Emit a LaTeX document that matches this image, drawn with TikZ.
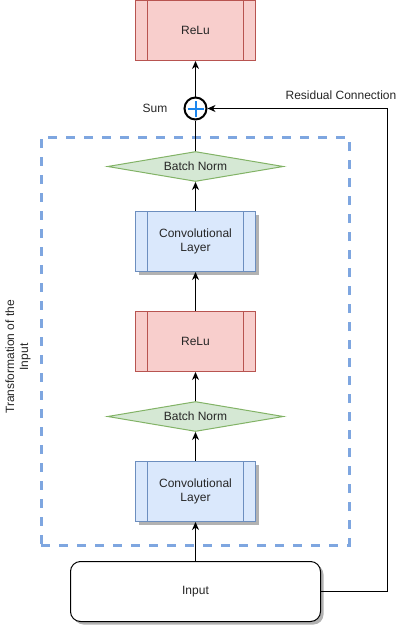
\documentclass[tikz,border=0pt]{standalone}
\usepackage{fontspec}
\setmainfont{Liberation Sans}
\usepackage{tikz}
\usetikzlibrary{positioning}
\usetikzlibrary{calc,arrows.meta,shadows}
\usetikzlibrary{shapes.geometric}

\definecolor{reluFill}{HTML}{F8CECC}
\definecolor{reluLine}{HTML}{B85450}
\definecolor{convFill}{HTML}{DAE8FC}
\definecolor{convLine}{HTML}{6C8EBF}
\definecolor{normFill}{HTML}{D5E8D4}
\definecolor{normLine}{HTML}{82B366}
\definecolor{blockLine}{HTML}{7EA6E0}
\definecolor{plusBlue}{HTML}{1C86EE}

\tikzset{
	every node/.style={font=\fontsize{12pt}{14pt}\selectfont, text=black!85},
	flow/.style={line width=1pt, -{Stealth[length=8pt,width=7pt,inset=2.5pt]}},
	boxshadow/.style={drop shadow={shadow xshift=3pt, shadow yshift=-3pt, fill=black!30, opacity=1}},
	relubox/.style={rectangle, draw=reluLine, fill=reluFill, line width=1pt,
		minimum width=120pt, minimum height=60pt, align=center,
		path picture={
			\draw[reluLine, line width=1pt]
				([xshift=12pt]path picture bounding box.north west) -- ([xshift=12pt]path picture bounding box.south west)
				([xshift=-12pt]path picture bounding box.north east) -- ([xshift=-12pt]path picture bounding box.south east);
		}},
	convbox/.style={rectangle, draw=convLine, fill=convFill, line width=1pt,
		minimum width=120pt, minimum height=60pt, align=center, boxshadow,
		path picture={
			\draw[convLine, line width=1pt]
				([xshift=12pt]path picture bounding box.north west) -- ([xshift=12pt]path picture bounding box.south west)
				([xshift=-12pt]path picture bounding box.north east) -- ([xshift=-12pt]path picture bounding box.south east);
		}},
	normbox/.style={diamond, draw=normLine, fill=normFill, line width=1pt,
		minimum width=176pt, minimum height=30pt, inner sep=0pt, aspect=5.8},
	sumnode/.style={circle, draw=black, line width=2pt, minimum size=22pt, inner sep=0pt,
		path picture={
			\draw[plusBlue, line width=2pt]
				($(path picture bounding box.center)+(-8pt,0)$) -- ($(path picture bounding box.center)+(8pt,0)$)
				($(path picture bounding box.center)+(0,-8pt)$) -- ($(path picture bounding box.center)+(0,8pt)$);
		}},
}

\begin{document}
\begin{tikzpicture}[x=1pt, y=-1pt]
	
	% page frame, in pixels of the reference
	\useasboundingbox (0,0) rectangle (414,626);
	
	% dashed block round the transformation
	\node (Block) [rectangle, draw=blockLine, line width=3pt, dash pattern=on 9pt off 9pt,
		minimum width=308pt, minimum height=408pt] at (195,341) {};
	\node (BlockLabel) [rotate=90, align=center] at (18,357) {Transformation of the\\Input};
	
	% the stack, from the bottom up
	\node (Input) [rectangle, rounded corners=10pt, draw=black, fill=white, line width=1pt,
		minimum width=250pt, minimum height=60pt, boxshadow] at (195.5,591.5) {Input};
	\node (Conv2) [convbox] at (195.5,491.5) {Convolutional\\Layer};
	\node (BN2)   [normbox] at (195.5,416.5) {Batch Norm};
	\node (ReLU2) [relubox] at (195.5,341.5) {ReLu};
	\node (Conv1) [convbox] at (195.5,241.5) {Convolutional\\Layer};
	\node (BN1)   [normbox] at (195.5,166.5) {Batch Norm};
	\node (Sum)   [sumnode] at (195.5,108.5) {};
	\node (ReLUout) [relubox] at (195.5,30.5) {ReLu};
	
	\node (SumLabel) at (155,108) {Sum};
	\node (ResLabel) at (341,95) {Residual Connection};
	
	\coordinate (Bend) at (387,591.5);
	
	% connectors
	\draw[flow] (Input) -- (Conv2);
	\draw[flow] (Conv2) -- (BN2);
	\draw[flow] (BN2) -- (ReLU2);
	\draw[flow] (ReLU2) -- (Conv1);
	\draw[flow] (Conv1) -- (BN1);
	\draw[line width=1pt] (BN1) -- (Sum);
	\draw[flow] (Sum) -- (ReLUout);
	\draw[flow] (Input.east) -- (Bend) |- (Sum.east);
	
\end{tikzpicture}
\end{document}
